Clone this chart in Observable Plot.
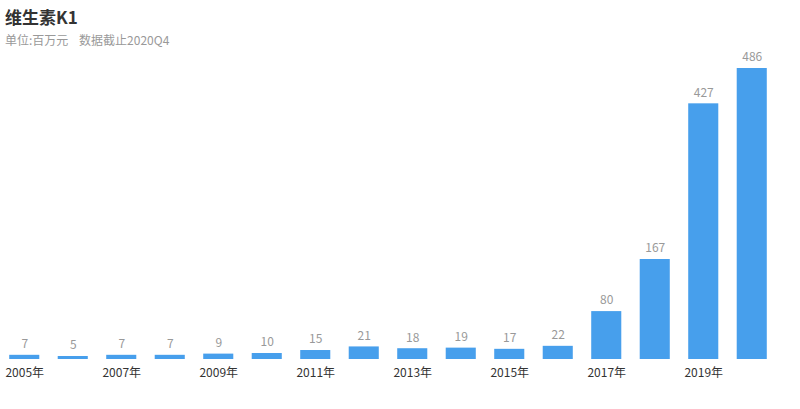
<!DOCTYPE html>
<html><head><meta charset="utf-8">
<script src="https://cdn.jsdelivr.net/npm/d3@7"></script>
<script src="https://cdn.jsdelivr.net/npm/@observablehq/plot@0.6"></script>
<style>
body{margin:0;background:#fff;font-family:"Noto Sans CJK SC","Noto Sans",sans-serif;}
#title{position:absolute;z-index:2;left:5px;top:5px;font-size:17px;font-weight:bold;color:#333;line-height:24px;}
#sub{position:absolute;z-index:2;left:5px;top:31px;font-size:12px;color:#999;line-height:18px;white-space:pre;}
#chart{position:absolute;z-index:1;left:0;top:36px;}
</style></head>
<body>
<div id="title">维生素K1</div>
<div id="sub">单位:百万元    数据截止2020Q4</div>
<div id="chart"></div>
<script>
const years = ["2005","2006","2007","2008","2009","2010","2011","2012","2013","2014","2015","2016","2017","2018","2019","2020"];
const values = [7,5,7,7,9,10,15,21,18,19,17,22,80,167,427,486];
const tickYears = ["2005","2007","2009","2011","2013","2015","2017","2019"];
const data = years.map((y,i)=>({year:y, value:values[i]}));
const chart = Plot.plot({
  width:800, height:353,
  marginLeft:0, marginRight:24, marginTop:32, marginBottom:30,
  style:{fontFamily:'"Noto Sans CJK SC","Noto Sans",sans-serif', fontSize:"12px", background:"transparent"},
  x:{domain:years, paddingInner:0.38, paddingOuter:0.19, round:false, axis:null},
  y:{domain:[0,486], axis:null},
  marks:[
    Plot.barY(data,{x:"year", y:"value", fill:"#479fec"}),
    Plot.text(data,{x:"year", y:"value", text:d=>String(d.value), dy:-11, fill:"#999", fontSize:12}),
    Plot.axisX(tickYears,{tickSize:0, tickPadding:9, label:null, tickFormat:d=>d+"年", fill:"#333", fontSize:12})
  ]
});
document.getElementById("chart").appendChild(chart);
</script>
</body></html>
